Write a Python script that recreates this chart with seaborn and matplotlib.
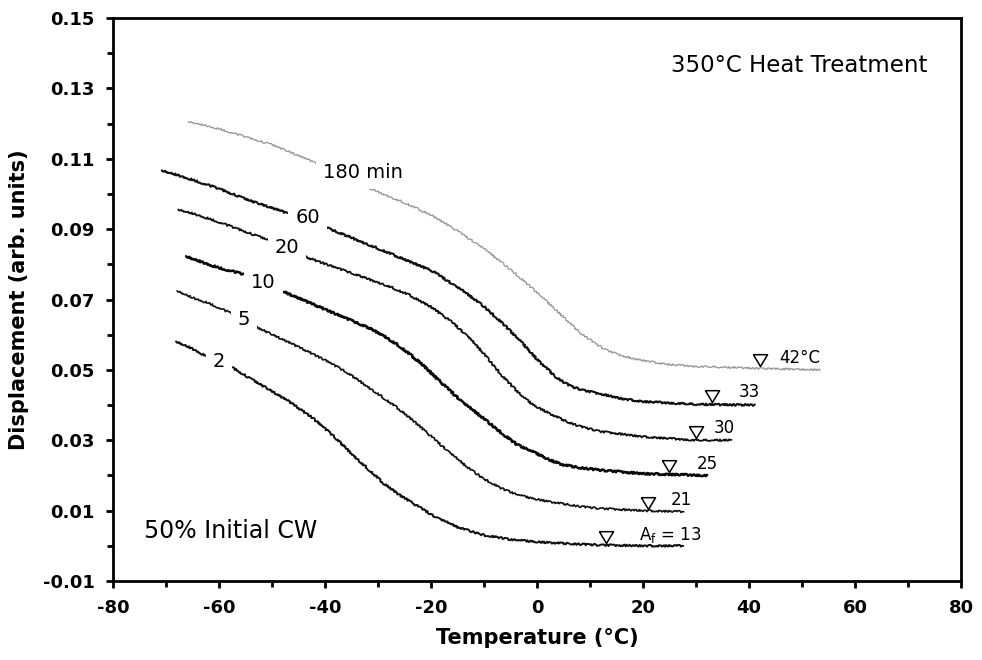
import numpy as np
import pandas as pd
import matplotlib
matplotlib.use("Agg")
import matplotlib.pyplot as plt
import seaborn as sns
from matplotlib.ticker import MultipleLocator

# Dilatometer traces: displacement vs temperature after 350 °C ageing
temp_2 = [-68.1, -65, -62.3, -57.3, -53.5, -47, -42.2, -38.4, -35, -32, -29, -26,
          -22, -19.5, -15, -10, -5, 0, 6, 12, 20, 27.6]
disp_2 = [0.0581, 0.0560, 0.0538, 0.0505, 0.0470, 0.0412, 0.0362, 0.0312, 0.0262,
          0.0220, 0.0178, 0.0145, 0.0108, 0.0085, 0.0053, 0.0030, 0.0018, 0.0011,
          0.0006, 0.0002, 0.0000, 0.0000]

temp_5 = [-67.9, -65, -62, -57.9, -52.9, -45, -40, -35.9, -30, -26, -22.7, -18,
          -13.3, -10, -7, -4, -1, 2.5, 8, 11.9, 20, 27.7]
disp_5 = [0.0725, 0.0705, 0.0690, 0.0662, 0.0621, 0.0565, 0.0528, 0.0493, 0.0432,
          0.0388, 0.0347, 0.0285, 0.0225, 0.0190, 0.0165, 0.0147, 0.0135, 0.0125,
          0.0112, 0.0106, 0.0100, 0.0097]

temp_10 = [-66.2, -63, -60, -55.1, -48, -40, -35, -32, -29, -26, -22, -18.3, -14,
           -10.1, -6, -3.8, 0, 2.5, 5, 8, 11.9, 20, 32.1]
disp_10 = [0.0823, 0.0805, 0.0790, 0.0771, 0.0723, 0.0672, 0.0640, 0.0621, 0.0598,
           0.0568, 0.0520, 0.0467, 0.0408, 0.0362, 0.0312, 0.0288, 0.0262, 0.0243,
           0.0230, 0.0222, 0.0215, 0.0205, 0.0200]

temp_20 = [-67.7, -64, -60, -51, -43.5, -35, -28, -24, -19.6, -16, -13, -10, -6.4,
           -3, -0.7, 2.5, 5.6, 8, 11.9, 20, 30, 36.7]
disp_20 = [0.0956, 0.0940, 0.0920, 0.0871, 0.0820, 0.0775, 0.0738, 0.0712, 0.0675,
           0.0635, 0.0595, 0.0545, 0.0480, 0.0428, 0.0400, 0.0375, 0.0353, 0.0340,
           0.0325, 0.0310, 0.0300, 0.0300]

temp_60 = [-70.8, -66, -60, -54, -47.2, -39.7, -30, -19.6, -14, -10, -6, -3, 0, 1.8,
           3.5, 5.6, 7, 9, 11.9, 16, 20, 30, 41.1]
disp_60 = [0.1067, 0.1045, 0.1015, 0.0980, 0.0946, 0.0904, 0.0845, 0.0780, 0.0725,
           0.0680, 0.0625, 0.0580, 0.0530, 0.0505, 0.0480, 0.0460, 0.0450, 0.0441,
           0.0432, 0.0418, 0.0410, 0.0402, 0.0400]

temp_180 = [-65.8, -60, -50, -42.2, -31.5, -25, -20, -15, -10, -5, 0, 1.8, 5, 8, 11,
            13, 15, 18, 22, 25, 30, 40, 53.4]
disp_180 = [0.1206, 0.1185, 0.1140, 0.1091, 0.1015, 0.0975, 0.0940, 0.0895, 0.0845,
            0.0785, 0.0720, 0.0695, 0.0650, 0.0607, 0.0575, 0.0557, 0.0545, 0.0532,
            0.0522, 0.0515, 0.0510, 0.0505, 0.0500]

ageing_times = [2, 5, 10, 20, 60, 180]
time_labels = ["2", "5", "10", "20", "60", "180 min"]
af_temps = [13, 21, 25, 30, 33, 42]
af_labels = [r"A$_\mathregular{f}$ = 13", "21", "25", "30", "33", "42°C"]

temps = [temp_2, temp_5, temp_10, temp_20, temp_60, temp_180]
disps = [disp_2, disp_5, disp_10, disp_20, disp_60, disp_180]

frames = [pd.DataFrame({"Temperature": t, "Displacement": d, "time": tm})
          for t, d, tm in zip(temps, disps, ageing_times)]
df = pd.concat(frames, ignore_index=True)

sns.set_style("ticks")
plt.rcParams["font.family"] = ["DejaVu Sans"]
plt.rcParams["axes.unicode_minus"] = False
for key in ["text.color", "axes.labelcolor", "xtick.color", "ytick.color",
            "axes.edgecolor"]:
    plt.rcParams[key] = "black"

fig, ax = plt.subplots(figsize=(9.82, 6.60), dpi=100)
fig.subplots_adjust(left=0.1151, right=0.9786, bottom=0.1197, top=0.9727)

line_colors = {2: "#111111", 5: "#111111", 10: "#0a0a0a", 20: "#111111",
               60: "#111111", 180: "#959595"}
line_widths = {2: 1.4, 5: 1.2, 10: 1.8, 20: 1.3, 60: 1.5, 180: 0.9}

for tm in ageing_times:
    sub = df[df["time"] == tm]
    sns.lineplot(data=sub, x="Temperature", y="Displacement", ax=ax,
                 color=line_colors[tm], linewidth=line_widths[tm],
                 estimator=None, sort=False, legend=False)
    ln = ax.lines[-1]
    ln.set_sketch_params(scale=0.9, length=1.6, randomness=4)
    ln.set_zorder(2)

# curve labels sitting in gaps of the traces
label_pos = [(-60.0, 0.0524), (-55.3, 0.0643), (-51.6, 0.0747), (-47.2, 0.0847),
             (-43.3, 0.0932), (-32.8, 0.1060)]
for (x, y), txt in zip(label_pos, time_labels):
    ax.text(x, y, txt, fontsize=14, ha="center", va="center", zorder=4,
            bbox=dict(boxstyle="square,pad=0.35", fc="white", ec="none"))

# open down-triangles marking A_f on each trace
tri = [(-0.6, 1.0), (0.6, 1.0), (0.0, 0.0), (-0.6, 1.0)]
for t, d, af in zip(temps, disps, af_temps):
    y_af = np.interp(af, t, d)
    ax.plot([af], [y_af + 0.0006], marker=tri, markersize=17, mfc="white",
            mec="black", mew=1.1, ls="none", zorder=5)

af_text_pos = [(25.1, 0.0031), (27.3, 0.0130), (32.2, 0.0233), (35.3, 0.0334),
               (40.1, 0.0436), (49.6, 0.0535)]
for (x, y), txt in zip(af_text_pos, af_labels):
    ax.text(x, y, txt, fontsize=12, ha="center", va="center", zorder=4)

ax.text(49.4, 0.1364, "350°C Heat Treatment", fontsize=16.5, ha="center", va="center")
ax.text(-57.8, 0.0042, "50% Initial CW", fontsize=17, ha="center", va="center")

ax.set_xlim(-80, 80)
ax.set_ylim(-0.01, 0.15)
ax.xaxis.set_major_locator(MultipleLocator(20))
ax.xaxis.set_minor_locator(MultipleLocator(10))
ax.yaxis.set_minor_locator(MultipleLocator(0.01))
ytick_vals = np.arange(-0.01, 0.1501, 0.02)
ax.set_yticks(ytick_vals)
ax.set_yticklabels([f"{v:.2f}" for v in ytick_vals])

for s in ax.spines.values():
    s.set_visible(True)
    s.set_linewidth(2.0)
    s.set_color("black")

ax.tick_params(axis="both", which="major", direction="out", length=5, width=2,
               labelsize=13, pad=8, color="black", labelcolor="black")
ax.tick_params(axis="both", which="minor", direction="out", length=4, width=2,
               color="black")
ax.tick_params(top=False, right=False, which="both")
for lbl in ax.get_xticklabels() + ax.get_yticklabels():
    lbl.set_fontweight("bold")

ax.set_xlabel("Temperature (°C)", fontsize=15, fontweight="bold", labelpad=8)
ax.set_ylabel("Displacement (arb. units)", fontsize=15, fontweight="bold", labelpad=10)
ax.grid(False)

fig.savefig("out.png", dpi=100, facecolor="white")
